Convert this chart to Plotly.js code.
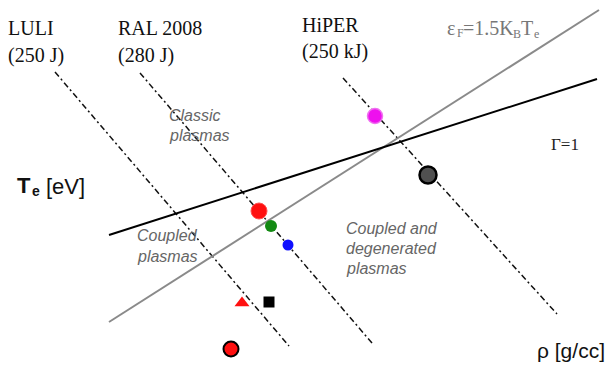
<!DOCTYPE html>
<html>
<head>
<meta charset="utf-8">
<script src="https://cdn.plot.ly/plotly-3.0.1.min.js"></script>
<style>html,body{margin:0;padding:0;background:#fff;}#chart{width:609px;height:370px;}</style>
</head>
<body>
<div id="chart"></div>
<script>
// Diagram coordinates (abstract units on hidden axes, y grows downward)
const fermiLineX = [109, 599];
const fermiLineY = [322, 10];
const gammaLineX = [109, 597];
const gammaLineY = [235, 79];
const luliX = [55, 289];
const luliY = [72, 346];
const ralX = [140, 372];
const ralY = [73, 343];
const hiperX = [343, 557];
const hiperY = [78, 314];

const pointLabels = ["HiPER", "HiPER high", "RAL red", "RAL green", "RAL blue", "triangle", "square", "LULI red"];
const pointX = [375, 428, 259, 271, 288, 242, 269, 231];
const pointY = [116, 175, 211, 226, 245, 303, 302, 349];
const pointColors = ["#ee10ee", "#505050", "#ff1010", "#138a13", "#1010ff", "#ff1010", "#000000", "#ff1010"];
const pointLineColors = ["#f070f0", "#000000", "#ff5050", "#138a13", "#1010ff", "#ff1010", "#000000", "#000000"];
const pointSymbols = ["circle", "circle", "circle", "circle", "circle", "triangle-up", "square", "circle"];
const pointSizes = [15, 17, 16, 12, 11, 13, 11, 15];
const pointLineWidths = [1.5, 2.5, 1, 0, 0, 0, 0, 2];

const traces = [
  {x: luliX, y: luliY, mode: "lines", line: {color: "#111", width: 1.5, dash: "6px,3px,2px,3px"}, hoverinfo: "skip"},
  {x: ralX, y: ralY, mode: "lines", line: {color: "#111", width: 1.5, dash: "6px,3px,2px,3px"}, hoverinfo: "skip"},
  {x: hiperX, y: hiperY, mode: "lines", line: {color: "#111", width: 1.5, dash: "6px,3px,2px,3px"}, hoverinfo: "skip"},
  {x: fermiLineX, y: fermiLineY, mode: "lines", line: {color: "#8a8a8a", width: 2}, hoverinfo: "skip"},
  {x: gammaLineX, y: gammaLineY, mode: "lines", line: {color: "#000", width: 2}, hoverinfo: "skip"},
  {x: pointX, y: pointY, text: pointLabels, mode: "markers",
   marker: {color: pointColors, symbol: pointSymbols, size: pointSizes, opacity: 1,
            line: {color: pointLineColors, width: pointLineWidths}}, hoverinfo: "text"}
];

const serif = "Liberation Serif, Times New Roman, serif";
const sans = "Liberation Sans, Arial, sans-serif";
function ann(text, x, y, size, family, color, style, weight) {
  return {text: text, x: x, y: y, xref: "x", yref: "y", showarrow: false,
    xanchor: "left", yanchor: "middle", align: "left",
    font: {size: size, family: family, color: color, style: style || "normal", weight: weight || "normal"}};
}
const fermiGray = "#777777";
const annotations = [
  ann("LULI", 6, 28, 20, serif, "#111"),
  ann("(250 J)", 6, 55, 20, serif, "#111"),
  ann("RAL 2008", 116, 28, 20, serif, "#111"),
  ann("(280 J)", 116, 55, 20, serif, "#111"),
  ann("HiPER", 300, 25, 20, serif, "#111"),
  ann("(250 kJ)", 300, 51, 20, serif, "#111"),
  // ε_F = 1.5 K_B T_e, subscripts drawn as separate small texts
  ann("ε", 445, 28, 20, serif, fermiGray),
  ann("F", 455, 33, 12, serif, fermiGray),
  ann("=1.5K", 461, 28, 20, serif, fermiGray),
  ann("B", 511, 34, 12, serif, fermiGray),
  ann("T", 519, 28, 20, serif, fermiGray),
  ann("e", 532, 34, 12, serif, fermiGray),
  ann("Γ=1", 549, 144, 17, serif, "#222"),
  ann("T", 15, 185, 22, sans, "#111", "normal", "bold"),
  ann("e", 30, 191, 14, sans, "#111", "normal", "bold"),
  ann("[eV]", 44, 186, 22, sans, "#111"),
  ann("ρ [g/cc]", 535, 350, 21, sans, "#111"),
  ann("Classic", 167, 115, 16, sans, "#666", "italic"),
  ann("plasmas", 167, 135, 16, sans, "#666", "italic"),
  ann("Coupled", 135, 235, 16, sans, "#666", "italic"),
  ann("plasmas", 135, 256, 16, sans, "#666", "italic"),
  ann("Coupled and", 344, 228, 16, sans, "#666", "italic"),
  ann("degenerated", 344, 248, 16, sans, "#666", "italic"),
  ann("plasmas", 344, 268, 16, sans, "#666", "italic")
];

const layout = {
  width: 609, height: 370,
  margin: {l: 0, r: 0, t: 0, b: 0},
  paper_bgcolor: "#fff", plot_bgcolor: "#fff",
  showlegend: false,
  xaxis: {range: [0, 609], visible: false, fixedrange: true},
  yaxis: {range: [370, 0], visible: false, fixedrange: true},
  annotations: annotations
};
Plotly.newPlot("chart", traces, layout, {displayModeBar: false, staticPlot: true});
</script>
</body>
</html>
